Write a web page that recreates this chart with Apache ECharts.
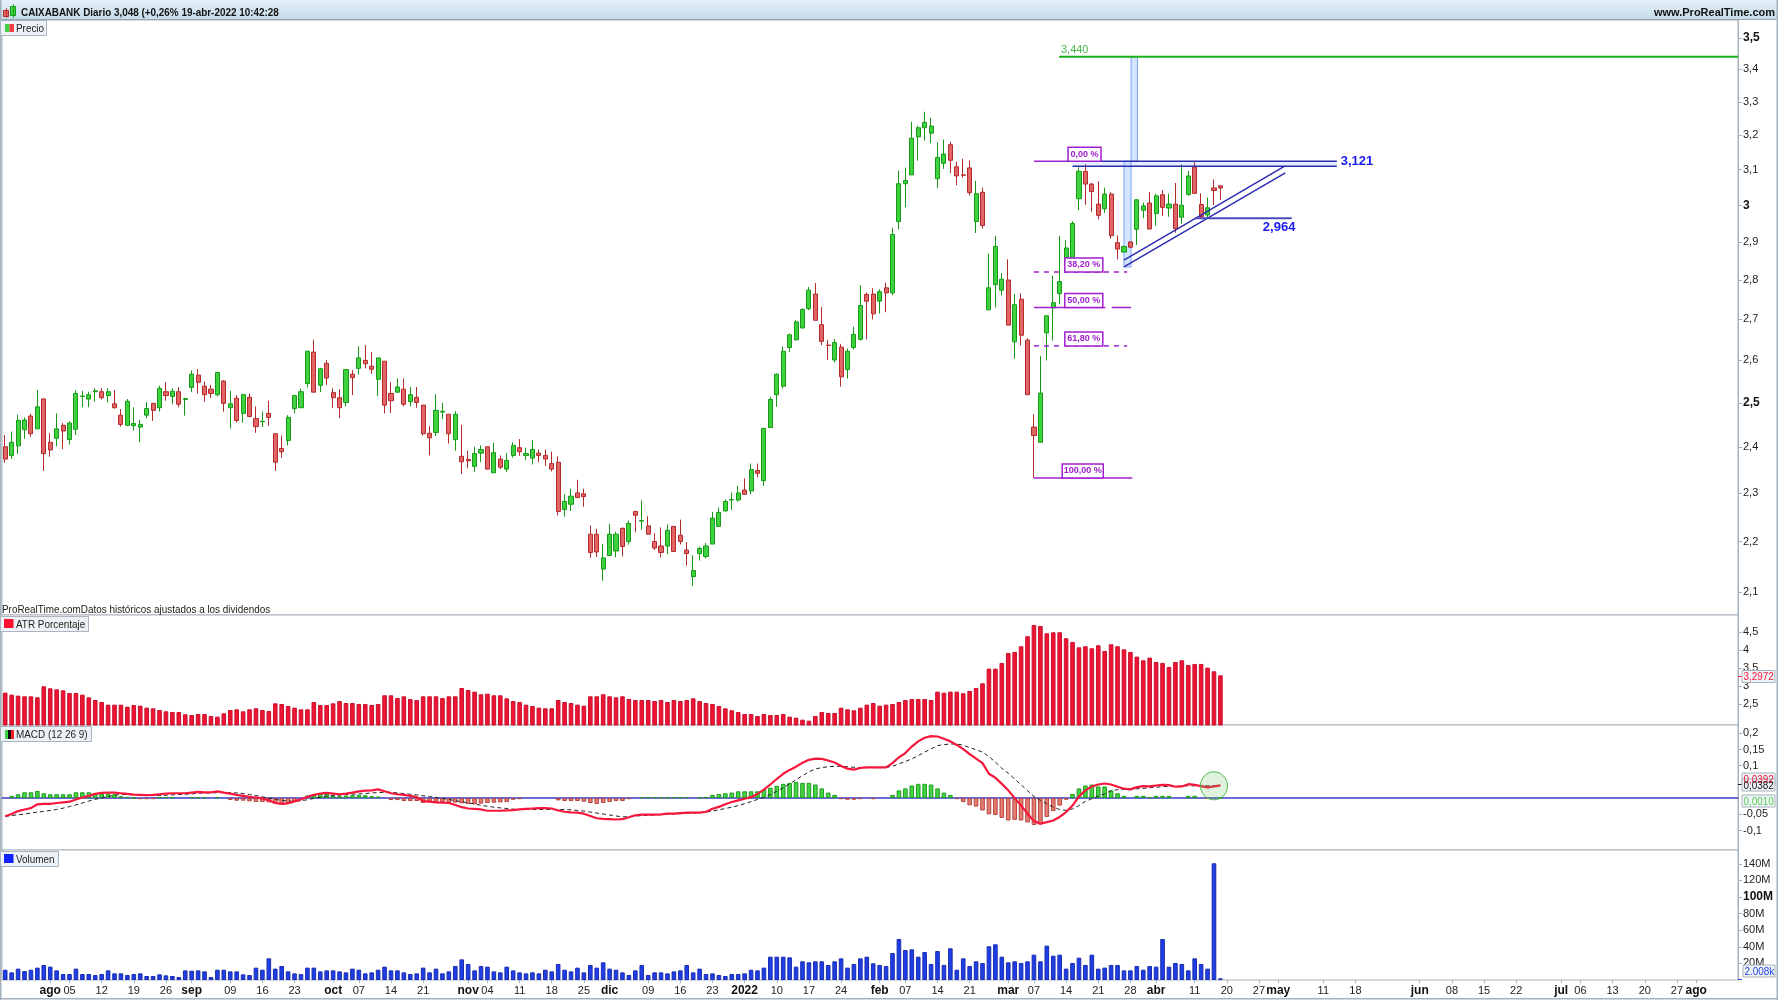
<!DOCTYPE html>
<html lang="es" style="height: 100%">

<head>
  <meta charset="utf-8">
</head>

<body style="height: 100%; margin: 0; background: #fff">
  <div id="container" style="width: 1778px; height: 1000px"></div>

  <script type="text/javascript" src="https://fastly.jsdelivr.net/npm/echarts@6.0.0/dist/echarts.min.js"></script>

  <script type="text/javascript">
    // daily sessions, [open, close, low, high]
    var ohlc = [
      [2.401,2.374,2.366,2.427],[2.382,2.411,2.374,2.435],[2.403,2.460,2.385,2.473],[2.439,2.461,2.419,2.467],[2.470,2.430,2.423,2.475],
      [2.441,2.491,2.441,2.530],[2.509,2.386,2.348,2.511],[2.411,2.394,2.379,2.431],[2.420,2.441,2.402,2.476],[2.449,2.436,2.396,2.454],
      [2.417,2.454,2.406,2.458],[2.440,2.522,2.427,2.529],[2.515,2.516,2.490,2.528],[2.509,2.519,2.490,2.526],[2.526,2.528,2.503,2.534],
      [2.526,2.512,2.508,2.534],[2.517,2.526,2.501,2.534],[2.498,2.489,2.487,2.530],[2.472,2.451,2.446,2.486],[2.449,2.504,2.448,2.509],
      [2.448,2.453,2.437,2.490],[2.445,2.451,2.411,2.461],[2.472,2.487,2.465,2.502],[2.499,2.483,2.459,2.500],[2.489,2.534,2.480,2.540],
      [2.526,2.517,2.505,2.548],[2.515,2.527,2.497,2.534],[2.526,2.497,2.490,2.537],[2.508,2.510,2.471,2.512],[2.536,2.567,2.525,2.576],
      [2.565,2.548,2.522,2.579],[2.539,2.519,2.503,2.550],[2.532,2.522,2.512,2.542],[2.519,2.571,2.515,2.572],[2.551,2.499,2.480,2.553],
      [2.489,2.498,2.442,2.528],[2.511,2.460,2.455,2.518],[2.476,2.519,2.455,2.521],[2.513,2.469,2.467,2.522],[2.464,2.446,2.432,2.492],
      [2.457,2.458,2.445,2.480],[2.476,2.467,2.448,2.505],[2.430,2.367,2.348,2.431],[2.397,2.390,2.377,2.426],[2.415,2.467,2.404,2.472],
      [2.487,2.517,2.476,2.519],[2.489,2.526,2.489,2.533],[2.545,2.622,2.536,2.623],[2.620,2.525,2.525,2.650],[2.541,2.580,2.525,2.582],
      [2.593,2.558,2.542,2.601],[2.524,2.512,2.488,2.534],[2.512,2.489,2.465,2.532],[2.501,2.578,2.492,2.580],[2.567,2.559,2.518,2.577],
      [2.581,2.606,2.566,2.634],[2.600,2.592,2.581,2.637],[2.586,2.579,2.568,2.620],[2.555,2.606,2.516,2.607],[2.598,2.495,2.476,2.598],
      [2.522,2.505,2.477,2.548],[2.525,2.537,2.523,2.557],[2.532,2.497,2.492,2.557],[2.503,2.519,2.492,2.537],[2.513,2.501,2.489,2.537],
      [2.495,2.430,2.426,2.495],[2.431,2.421,2.382,2.447],[2.433,2.483,2.425,2.520],[2.479,2.481,2.463,2.500],[2.474,2.430,2.408,2.475],
      [2.417,2.474,2.392,2.481],[2.380,2.368,2.341,2.450],[2.373,2.370,2.354,2.392],[2.358,2.386,2.346,2.401],[2.387,2.395,2.367,2.404],
      [2.401,2.352,2.351,2.401],[2.344,2.388,2.344,2.410],[2.374,2.356,2.352,2.382],[2.352,2.371,2.346,2.387],[2.382,2.404,2.377,2.411],
      [2.399,2.390,2.381,2.418],[2.382,2.386,2.372,2.399],[2.376,2.395,2.362,2.416],[2.387,2.382,2.367,2.395],[2.382,2.374,2.359,2.395],
      [2.364,2.352,2.347,2.390],[2.367,2.262,2.254,2.380],[2.266,2.283,2.251,2.298],[2.277,2.294,2.263,2.310],[2.301,2.291,2.291,2.329],
      [2.299,2.293,2.272,2.310],[2.215,2.178,2.168,2.233],[2.215,2.179,2.169,2.226],[2.145,2.167,2.122,2.195],[2.172,2.215,2.172,2.236],
      [2.181,2.215,2.168,2.220],[2.227,2.190,2.170,2.229],[2.200,2.237,2.194,2.243],[2.262,2.254,2.219,2.263],[2.242,2.243,2.224,2.285],
      [2.232,2.215,2.215,2.252],[2.200,2.187,2.183,2.217],[2.191,2.178,2.168,2.229],[2.191,2.223,2.175,2.235],[2.231,2.180,2.179,2.232],
      [2.213,2.200,2.194,2.245],[2.183,2.176,2.152,2.199],[2.130,2.142,2.112,2.172],[2.176,2.186,2.162,2.190],[2.170,2.191,2.166,2.197],
      [2.195,2.248,2.195,2.261],[2.231,2.260,2.230,2.270],[2.263,2.283,2.262,2.287],[2.286,2.287,2.265,2.302],[2.286,2.301,2.282,2.316],
      [2.307,2.298,2.298,2.332],[2.305,2.351,2.298,2.364],[2.349,2.343,2.334,2.364],[2.327,2.442,2.316,2.443],[2.444,2.508,2.443,2.514],
      [2.519,2.567,2.491,2.569],[2.539,2.622,2.534,2.633],[2.631,2.662,2.620,2.665],[2.650,2.694,2.648,2.698],[2.679,2.725,2.678,2.728],
      [2.727,2.774,2.723,2.782],[2.764,2.698,2.698,2.792],[2.687,2.646,2.637,2.731],[2.637,2.636,2.601,2.649],[2.601,2.643,2.595,2.652],
      [2.632,2.561,2.538,2.640],[2.578,2.622,2.557,2.629],[2.631,2.663,2.626,2.682],[2.651,2.735,2.648,2.787],[2.763,2.746,2.651,2.768],
      [2.764,2.714,2.700,2.779],[2.746,2.770,2.715,2.776],[2.780,2.767,2.718,2.793],[2.767,2.920,2.761,2.938],[2.955,3.060,2.934,3.097],
      [3.060,3.069,2.994,3.106],[3.085,3.191,3.085,3.240],[3.195,3.222,3.126,3.228],[3.222,3.238,3.184,3.270],[3.206,3.227,3.176,3.252],
      [3.074,3.135,3.048,3.179],[3.118,3.145,3.102,3.187],[3.172,3.127,3.090,3.181],[3.108,3.082,3.056,3.123],[3.085,3.084,3.077,3.131],
      [3.105,3.035,3.027,3.127],[2.955,3.032,2.924,3.068],[3.036,2.944,2.936,3.049],[2.724,2.780,2.724,2.869],[2.788,2.888,2.730,2.916],
      [2.774,2.802,2.761,2.818],[2.800,2.686,2.686,2.854],[2.645,2.737,2.604,2.764],[2.751,2.661,2.636,2.766],[2.649,2.519,2.519,2.654],
      [2.445,2.426,2.333,2.474],[2.411,2.523,2.411,2.611],[2.667,2.709,2.600,2.710],[2.729,2.742,2.648,2.811],[2.765,2.796,2.738,2.916],
      [2.844,2.884,2.820,2.905],[2.859,2.950,2.857,2.956],[3.018,3.095,2.986,3.107],[3.095,3.059,3.001,3.115],[3.059,3.038,2.982,3.062],
      [3.003,2.972,2.961,3.067],[2.990,3.031,2.979,3.049],[3.031,2.917,2.909,3.036],[2.898,2.881,2.854,2.918],[2.873,2.888,2.873,2.890],
      [2.900,2.886,2.885,2.901],[2.934,3.015,2.892,3.016],[2.986,2.998,2.964,3.007],[3.006,2.935,2.934,3.036],[2.977,3.026,2.944,3.032],
      [3.029,2.994,2.971,3.042],[2.992,3.003,2.968,3.032],[3.003,2.936,2.925,3.062],[2.967,3.000,2.949,3.115],[3.030,3.082,3.026,3.096],
      [3.107,3.033,3.032,3.121],[3.002,2.969,2.963,3.033],[2.973,2.993,2.967,3.021],[3.048,3.041,3.000,3.072],[3.054,3.048,3.014,3.055]
    ];

    var atrPct = [
      2.813,2.757,2.729,2.711,2.711,2.683,2.990,2.934,2.906,2.878,
      2.804,2.804,2.757,2.683,2.608,2.552,2.478,2.478,2.478,2.422,
      2.469,2.450,2.394,2.376,2.329,2.292,2.273,2.273,2.208,2.189,
      2.217,2.217,2.161,2.143,2.236,2.329,2.348,2.292,2.348,2.376,
      2.329,2.301,2.515,2.497,2.441,2.394,2.348,2.348,2.552,2.469,
      2.469,2.515,2.580,2.524,2.524,2.497,2.497,2.469,2.497,2.739,
      2.739,2.664,2.711,2.636,2.608,2.711,2.711,2.711,2.664,2.711,
      2.711,2.943,2.888,2.841,2.767,2.785,2.739,2.739,2.655,2.580,
      2.552,2.478,2.441,2.394,2.376,2.376,2.608,2.552,2.524,2.478,
      2.450,2.711,2.711,2.767,2.711,2.683,
      2.711,2.636,2.608,2.608,2.608,2.580,2.608,2.552,2.608,2.580,
      2.608,2.655,2.580,2.524,2.497,2.441,2.376,2.320,2.273,2.217,
      2.217,2.161,2.217,2.189,2.189,2.217,2.143,2.115,2.059,2.031,
      2.161,2.273,2.245,2.245,2.394,2.348,2.320,2.394,2.478,2.524,
      2.450,2.478,2.497,2.552,2.608,2.636,2.636,2.636,2.608,2.841,
      2.813,2.841,2.841,2.795,2.860,2.943,3.074,3.483,3.483,3.642,
      3.921,3.949,4.107,4.387,4.703,4.675,4.470,4.498,4.498,4.331,
      4.228,4.079,4.107,4.051,4.135,3.977,4.163,4.107,4.023,3.949,
      3.819,3.716,3.791,3.670,3.642,3.530,3.670,3.716,3.586,3.614,
      3.614,3.511,3.409,3.2972
    ];

    var macdLine = [
      -.056,-.049,-.040,-.035,-.031,-.019,-.018,-.018,-.015,-.013,
      -.011,-.004,.002,.007,.013,.016,.017,.017,.015,.013,
      .011,.010,.009,.010,.012,.014,.015,.015,.015,.017,
      .019,.018,.018,.021,.017,.014,.010,.007,.004,.002,
      -.001,-.007,-.015,-.018,-.016,-.010,-.004,.004,.010,.014,
      .016,.014,.012,.014,.017,.021,.023,.024,.027,.021,
      .015,.012,.010,.007,.003,-.009,-.011,-.013,-.014,-.015,
      -.021,-.028,-.032,-.033,-.035,-.039,-.039,-.039,-.038,-.037,
      -.035,-.033,-.032,-.031,-.031,-.032,-.038,-.042,-.044,-.045,
      -.048,-.055,-.062,-.064,-.065,-.066,-.065,-.059,-.053,-.051,
      -.051,-.051,-.050,-.048,-.048,-.046,-.045,-.045,-.045,-.042,
      -.033,-.027,-.019,-.012,-.007,-.002,.003,.013,.026,.042,
      .059,.075,.087,.097,.109,.118,.122,.121,.116,.110,
      .099,.091,.088,.093,.095,.095,.095,.095,.108,.126,
      .139,.159,.175,.186,.191,.190,.183,.175,.164,.151,
      .136,.122,.108,.075,.063,.044,.024,.000,-.023,-.048,
      -.071,-.079,-.074,-.069,-.058,-.043,-.023,.005,.024,.036,
      .042,.045,.042,.035,.029,.027,.034,.037,.036,.039,
      .041,.040,.035,.036,.043,.041,.037,.033,.036,.0392
    ];

    var macdSignal = [
      -.056,-.054,-.051,-.049,-.046,-.043,-.041,-.038,-.035,-.031,
      -.026,-.021,-.015,-.009,-.004,.001,.005,.009,.011,.011,
      .010,.009,.008,.008,.008,.009,.010,.011,.012,.013,
      .015,.016,.016,.017,.017,.017,.016,.014,.011,.008,
      .004,.000,-.004,-.007,-.009,-.010,-.008,-.005,-.001,.003,
      .006,.008,.009,.011,.012,.013,.014,.016,.017,.018,
      .018,.016,.014,.012,.010,.007,.005,.002,-.001,-.004,
      -.008,-.011,-.015,-.018,-.022,-.025,-.028,-.030,-.032,-.034,
      -.035,-.035,-.035,-.035,-.035,-.035,-.035,-.035,-.036,-.038,
      -.040,-.043,-.046,-.049,-.052,-.055,-.058,-.057,-.055,-.054,
      -.053,-.052,-.051,-.050,-.049,-.048,-.047,-.046,-.045,-.043,
      -.040,-.036,-.032,-.028,-.023,-.017,-.011,-.004,.002,.011,
      .021,.032,.044,.057,.069,.081,.090,.094,.097,.098,
      .098,.097,.095,.094,.094,.094,.094,.095,.098,.106,
      .113,.121,.131,.142,.152,.162,.165,.167,.167,.163,
      .156,.149,.142,.128,.111,.092,.077,.059,.041,.023,
      .005,-.007,-.017,-.028,-.035,-.038,-.033,-.023,-.010,-.002,
      .006,.013,.023,.026,.027,.028,.029,.030,.032,.034,
      .035,.037,.037,.037,.038,.038,.038,.038,.038,.0382
    ];

    var macdHist = [
      0,.007,.012,.018,.018,.022,.015,.012,.012,.012,
      .012,.018,.018,.018,.016,.014,.014,.012,.006,.004,
      .001,-.003,-.003,-.003,.003,.003,.003,0,0,.003,
      .003,.003,0,.003,0,-.006,-.008,-.008,-.010,-.012,
      -.012,-.013,-.017,-.017,-.015,-.011,0,.008,.010,.013,
      .013,.007,.006,.008,.009,.010,.009,.006,.005,0,
      -.006,-.006,-.009,-.009,-.009,-.015,-.013,-.012,-.012,-.014,
      -.014,-.016,-.018,-.019,-.017,-.015,-.014,-.013,-.012,-.005,
      -.003,0,0,0,0,0,-.007,-.009,-.009,-.009,
      -.011,-.015,-.018,-.015,-.012,-.009,-.009,-.003,0,.003,
      .003,.003,.003,.003,.003,.003,.003,0,.003,.003,
      .010,.013,.015,.017,.021,.021,.021,.021,.026,.032,
      .038,.044,.047,.050,.047,.047,.042,.030,.017,.010,
      -.003,-.005,-.005,-.003,0,-.003,0,0,.010,.024,
      .030,.039,.044,.044,.042,.030,.017,.010,-.003,-.012,
      -.022,-.026,-.038,-.050,-.052,-.061,-.069,-.067,-.069,-.075,
      -.083,-.081,-.058,-.040,-.023,-.005,.013,.030,.039,.042,
      .036,.036,.024,.015,.007,0,.007,.007,.003,.007,
      .007,.007,0,0,.007,.007,0,-.002,0,.001
    ];

    // millions of shares
    var volumeM = [
      12.4,9.2,13.7,10.8,12.4,14.9,18.1,16.1,11.6,7.2,
      7.2,13.7,7.2,7.2,6.0,7.2,11.6,8.0,8.0,6.0,
      7.2,8.0,4.8,4.8,6.8,5.6,4.8,3.6,11.6,11.2,
      11.6,10.4,3.6,12.4,12.4,10.4,10.4,6.8,6.0,14.9,
      12.4,26.1,13.7,16.9,10.4,8.0,7.2,14.9,14.9,10.4,
      11.6,11.6,10.4,9.2,13.7,12.4,8.0,9.2,12.4,16.1,
      11.6,11.6,9.2,7.2,8.0,14.9,9.2,13.7,8.0,10.4,
      16.9,24.9,19.3,11.6,16.9,16.1,10.4,9.2,16.1,11.6,
      9.2,8.0,9.2,8.0,12.4,10.4,19.3,12.4,10.4,14.9,
      9.2,18.1,14.9,21.3,13.7,12.4,
      9.2,6.0,11.6,18.1,6.0,9.2,9.2,8.0,10.4,11.6,
      18.1,9.2,13.7,7.2,8.0,6.0,4.8,7.2,7.2,8.0,
      12.4,11.6,14.9,28.1,28.1,28.1,27.3,16.1,22.5,21.3,
      22.5,22.5,18.1,22.5,26.1,14.9,19.3,26.1,28.1,20.1,
      18.1,16.9,32.5,49.4,36.1,36.9,28.1,33.7,19.3,34.9,
      18.1,38.2,12.4,26.1,16.9,22.5,20.5,40.6,43.0,28.1,
      21.3,22.5,20.5,22.5,30.5,22.5,41.4,29.3,30.5,13.7,
      20.5,26.9,18.1,30.5,13.7,14.9,18.1,18.1,11.6,11.6,
      16.9,12.4,16.9,16.1,49.4,16.1,20.5,19.3,11.6,26.1,
      19.3,13.7,140.6,2.008
    ];

    // session index -> text on the time axis
    var dateTickIndex = [7,10,15,20,25,29,35,40,45,51,55,60,65,72,75,80,85,90,94,100,105,110,115,120,125,130,136,140,145,150,156,160,165,170,175,179,185,190,195,198,205,210,220,225,230,235,242,245,250,255,260,263];
    var dateTickText = ['ago','05','12','19','26','sep','09','16','23','oct','07','14','21','nov','04','11','18','25','dic','09','16','23','2022','10','17','24','feb','07','14','21','mar','07','14','21','28','abr','11','20','27','may','11','18','jun','08','15','22','jul','06','13','20','27','ago'];

    var priceTicks = [3.5,3.4,3.3,3.2,3.1,3,2.9,2.8,2.7,2.6,2.5,2.4,2.3,2.2,2.1];
    var atrTicks = [4.5,4,3.5,3,2.5];
    var macdTicks = [0.2,0.15,0.1,-0.05,-0.1];
    var volumeTicks = [20,40,60,80,100,120,140];

    // hand drawn objects on the price panel, x in sessions, y in euros
    var FIB = '#a01fd0', TRAZO = '#2c2cb0';
    var fibLines = [
      { pts: [[160, 3.124], [165, 3.124]], dash: false },
      { pts: [[160, 2.821], [174.5, 2.821]], dash: true },
      { pts: [[160, 2.730], [171.1, 2.730]], dash: false },
      { pts: [[172.1, 2.730], [175.1, 2.730]], dash: false },
      { pts: [[160, 2.635], [174.5, 2.635]], dash: true },
      { pts: [[160, 2.333], [175.3, 2.333]], dash: false }
    ];
    var fibBoxes = [[165.3, 3.124, '0,00 %', 33], [164.8, 2.821, '38,20 %', 38], [164.8, 2.730, '50,00 %', 38], [164.8, 2.635, '61,80 %', 38], [164.4, 2.333, '100,00 %', 41]];
    var trendLines = [
      [[165, 3.124], [207.1, 3.124]],
      [[166, 3.110], [207.1, 3.110]],
      [[174, 2.852], [199, 3.110]],
      [[174, 2.834], [199.1, 3.091]]
    ];
    var supportLine = [[185, 2.964], [200.1, 2.964]];
    var targetLine = [[163.9, 3.44], [269.5, 3.44]];
    var zoneRects = [[166, 3.124, 207.1, 3.110], [174, 3.124, 175.1, 2.834], [175.1, 3.44, 176.1, 3.124]];
    var priceNotes = [[164.2, 3.462, '3,440', '#4cb84c', 'normal', 11], [207.7, 3.124, '3,121', '#1a1aee', 'bold', 13], [195.6, 2.94, '2,964', '#1a1aee', 'bold', 13]];
    var macdCircle = [[188, 0.038]];

    var FONT = '"Liberation Sans", Arial, sans-serif';
    var GREY = '#a6b2bb';
    var TEXT = '#222';
    var N_BARS = 270;

    var categories = [];
    for (var i = 0; i < N_BARS; i++) categories.push(String(i));
    var labelAt = {};
    dateTickIndex.forEach(function (idx, k) { labelAt[idx] = dateTickText[k]; });

    function commaNum(v) {
      return String(+(+v).toFixed(3)).replace('.', ',');
    }

    var grids = [
      { top: 20, height: 595 },
      { top: 615, height: 110 },
      { top: 725, height: 125 },
      { top: 850, height: 130 }
    ].map(function (g) {
      return { left: 2, width: 1736, top: g.top, height: g.height, show: true, backgroundColor: '#fff', borderColor: GREY, borderWidth: 1 };
    });

    function xCat(idx, extra) {
      return Object.assign({
        type: 'category',
        gridIndex: idx,
        data: categories,
        boundaryGap: true,
        axisLine: { show: false },
        axisTick: { show: false },
        axisLabel: { show: false },
        splitLine: { show: false }
      }, extra || {});
    }

    function yRight(idx, ticks, extra, fmt) {
      return Object.assign({
        gridIndex: idx,
        position: 'right',
        scale: true,
        splitLine: { show: false },
        axisLine: { show: true, onZero: false, lineStyle: { color: GREY, width: 1 } },
        axisTick: { show: true, length: 4, lineStyle: { color: GREY }, customValues: ticks },
        axisLabel: {
          show: true,
          customValues: ticks,
          margin: 5,
          color: TEXT,
          fontFamily: FONT,
          fontSize: 11,
          formatter: fmt,
          rich: { b: { fontWeight: 'bold', fontSize: 12, color: '#111', fontFamily: FONT } }
        }
      }, extra);
    }

    var option = {
      animation: false,
      backgroundColor: '#fff',
      grid: grids,
      xAxis: [
        xCat(0),
        xCat(1),
        xCat(2, { axisLine: { show: true, onZero: true, lineStyle: { color: '#3c3cc4', width: 1.5 } } }),
        xCat(3, {
          axisTick: {
            show: true, length: 3, alignWithLabel: true, lineStyle: { color: GREY },
            interval: function (index) { return labelAt[index] != null; }
          },
          axisLabel: {
            show: true,
            margin: 5,
            color: TEXT,
            fontFamily: FONT,
            fontSize: 11,
            hideOverlap: false,
            interval: function (index) { return labelAt[index] != null; },
            formatter: function (val) {
              var t = labelAt[+val];
              if (t == null) return '';
              return /^\d\d$/.test(t) ? t : '{b|' + t + '}';
            },
            rich: { b: { fontWeight: 'bold', fontSize: 12, color: '#111', fontFamily: FONT } }
          }
        }),
        // same width as the sessions, used for the drawn objects
        { type: 'value', gridIndex: 0, min: -0.5, max: N_BARS - 0.5, show: false, splitLine: { show: false } }
      ],
      yAxis: [
        yRight(0, priceTicks, { type: 'log', logBase: 10, min: 2.056, max: 3.5586 }, function (v) {
          var s = commaNum(v);
          return (s === '3,5' || s === '3' || s === '2,5') ? '{b|' + s + '}' : s;
        }),
        yRight(1, atrTicks, { type: 'value', min: 1.91, max: 4.98 }, commaNum),
        yRight(2, macdTicks, { type: 'value', min: -0.16, max: 0.2255 }, commaNum),
        yRight(3, volumeTicks, { type: 'value', min: 0, max: 156.6 }, function (v) {
          return +v === 100 ? '{b|100M}' : Math.round(v) + 'M';
        })
      ],
      series: [
        {
          type: 'candlestick',
          name: 'Precio',
          xAxisIndex: 0,
          yAxisIndex: 0,
          barWidth: 4.6,
          data: ohlc,
          itemStyle: { color: '#3fd13f', color0: '#e26565', borderColor: '#159a15', borderColor0: '#b42a2a', borderWidth: 1 },
          z: 2
        },
        {
          type: 'custom',
          name: 'zonas',
          xAxisIndex: 4,
          yAxisIndex: 0,
          data: zoneRects,
          z: 1,
          renderItem: function (params, api) {
            var a = api.coord([api.value(0), api.value(1)]);
            var b = api.coord([api.value(2), api.value(3)]);
            var band = params.dataIndex === 0;
            return {
              type: 'rect',
              shape: { x: a[0], y: a[1], width: b[0] - a[0], height: b[1] - a[1] },
              style: { fill: band ? '#e6eeff' : 'rgba(185,212,255,0.6)', stroke: band ? null : '#78a6f5', lineWidth: 1 }
            };
          }
        }
      ].concat(fibLines.map(function (l) {
        return drawnLine(l.pts, FIB, 1.5, l.dash ? [5, 5] : null, 3);
      })).concat(trendLines.map(function (pts) {
        return drawnLine(pts, TRAZO, 1.5, null, 4);
      })).concat([
        drawnLine(supportLine, '#4a4ab8', 2, null, 4),
        drawnLine(targetLine, '#1ab01a', 2, null, 4),
        {
          type: 'custom',
          name: 'fibonacci',
          xAxisIndex: 4,
          yAxisIndex: 0,
          data: fibBoxes.map(function (b) { return [b[0], b[1]]; }),
          z: 5,
          renderItem: function (params, api) {
            var p = api.coord([api.value(0), api.value(1)]);
            var b = fibBoxes[params.dataIndex];
            return {
              type: 'group',
              children: [
                { type: 'rect', shape: { x: p[0], y: p[1] - 14, width: b[3], height: 14 }, style: { fill: '#fff', stroke: FIB, lineWidth: 1.5 } },
                { type: 'text', style: { x: p[0] + b[3] / 2, y: p[1] - 7, text: b[2], fill: FIB, font: 'bold 9px ' + FONT, align: 'center', verticalAlign: 'middle' } }
              ]
            };
          }
        },
        {
          type: 'custom',
          name: 'notas',
          xAxisIndex: 4,
          yAxisIndex: 0,
          data: priceNotes.map(function (n) { return [n[0], n[1]]; }),
          z: 5,
          renderItem: function (params, api) {
            var p = api.coord([api.value(0), api.value(1)]);
            var n = priceNotes[params.dataIndex];
            return { type: 'text', style: { x: p[0], y: p[1], text: n[2], fill: n[3], font: n[4] + ' ' + n[5] + 'px ' + FONT, align: 'left', verticalAlign: 'middle' } };
          }
        },
        {
          type: 'bar',
          name: 'ATR Porcentaje',
          xAxisIndex: 1,
          yAxisIndex: 1,
          barWidth: 4.6,
          data: atrPct,
          itemStyle: { color: '#f01434', borderColor: '#c8102c', borderWidth: 1 }
        },
        {
          type: 'bar',
          name: 'MACD hist',
          xAxisIndex: 2,
          yAxisIndex: 2,
          barWidth: 4.6,
          data: macdHist.map(function (v) {
            if (v === 0) return null;
            return {
              value: v,
              itemStyle: v >= 0
                ? { color: '#45d445', borderColor: '#1c9c1c', borderWidth: 1 }
                : { color: '#e57c72', borderColor: '#b4453f', borderWidth: 1 }
            };
          })
        },
        {
          type: 'line',
          name: 'Signal',
          xAxisIndex: 2,
          yAxisIndex: 2,
          data: macdSignal,
          showSymbol: false,
          lineStyle: { color: '#222', width: 1, type: [4, 3] },
          z: 3
        },
        {
          type: 'line',
          name: 'MACD',
          xAxisIndex: 2,
          yAxisIndex: 2,
          data: macdLine,
          showSymbol: false,
          lineStyle: { color: '#f8173c', width: 2.2 },
          z: 4
        },
        {
          type: 'custom',
          name: 'circulo',
          xAxisIndex: 2,
          yAxisIndex: 2,
          data: macdCircle,
          z: 5,
          renderItem: function (params, api) {
            var p = api.coord([api.value(0), api.value(1)]);
            return {
              type: 'ellipse',
              shape: { cx: p[0], cy: p[1], rx: 13.5, ry: 14 },
              style: { fill: 'rgba(90,190,90,0.2)', stroke: '#4cbb4c', lineWidth: 1 }
            };
          }
        },
        {
          type: 'bar',
          name: 'Volumen',
          xAxisIndex: 3,
          yAxisIndex: 3,
          barWidth: 4.6,
          data: volumeM,
          itemStyle: { color: '#1f3fe6', borderColor: '#1a2cae', borderWidth: 1 }
        }
      ]),
      graphic: chrome()
    };

    function drawnLine(pts, color, width, dash, z) {
      return {
        type: 'line',
        xAxisIndex: 4,
        yAxisIndex: 0,
        data: pts,
        showSymbol: false,
        silent: true,
        z: z,
        lineStyle: { color: color, width: width, type: dash || 'solid' }
      };
    }

    // window furniture: title bar, panel tags, last value boxes
    function chrome() {
      var out = [];
      function rect(x, y, w, h, fill, stroke) {
        out.push({ type: 'rect', z: 20, silent: true, shape: { x: x, y: y, width: w, height: h }, style: { fill: fill, stroke: stroke || null, lineWidth: 1 } });
      }
      // the source text is narrower than Liberation at the same height
      function text(x, y, s, font, fill, align, sx) {
        out.push({ type: 'text', z: 21, silent: true, x: x, y: y, scaleX: sx || 0.9, style: { text: s, font: font, fill: fill, textAlign: align || 'left', textVerticalAlign: 'middle' } });
      }
      function tag(y, w, label) {
        rect(0.5, y + 0.5, w, 15, '#eef2f6', '#a9b6c2');
        text(16, y + 9, label, '11px ' + FONT, TEXT);
      }

      rect(0, 0, 1778, 19, { type: 'linear', x: 0, y: 0, x2: 0, y2: 1, colorStops: [{ offset: 0, color: '#e4f1fa' }, { offset: 1, color: '#c6dbe9' }] }, null);
      rect(0, 19, 1778, 1, '#97a7b2');
      rect(0, 0, 1.5, 1000, GREY);
      rect(0, 998, 1778, 1.5, GREY);
      rect(1776.5, 0, 1.5, 1000, GREY);

      // candle icon
      rect(3.5, 10.5, 5, 6, '#e26565', '#b42a2a');
      rect(10.5, 6.5, 5, 9, '#3fd13f', '#159a15');
      rect(6, 8, 0.8, 10, '#b42a2a');
      rect(13, 4, 0.8, 14, '#159a15');
      text(21, 12.5, 'CAIXABANK Diario 3,048 (+0,26% 19-abr-2022 10:42:28', 'bold 11px ' + FONT, '#111');
      text(1775, 12.5, 'www.ProRealTime.com', 'bold 11px ' + FONT, '#111', 'right', 1);

      tag(20, 46, 'Precio');
      rect(5, 24, 4.5, 8, '#3fd13f');
      rect(9.5, 24, 4.5, 8, '#ee4040');
      text(2, 610, 'ProRealTime.comDatos históricos ajustados a los dividendos', '11px ' + FONT, TEXT);

      tag(616, 88, 'ATR Porcentaje');
      rect(4, 619, 9.5, 9, '#ff1030');
      tag(726, 91, 'MACD (12 26 9)');
      rect(5, 730, 3, 9, '#3fd13f');
      rect(8, 730, 3, 9, '#111');
      rect(11, 730, 3, 9, '#ee2020');
      tag(851, 58, 'Volumen');
      rect(4, 854, 9.5, 9, '#1020ff');

      // last values on the right scales
      function lastBox(y, s, color, x, w) {
        rect(x, y, w, 12, '#f1f4f6', '#a6b2bb');
        text(x + 1.5, y + 6.5, s, '11px ' + FONT, color);
      }
      rect(1738, 676, 4, 1, '#f8173c');
      lastBox(670.5, '3,2972', '#f8173c', 1742, 33);
      rect(1738, 784, 4, 1, '#111');
      lastBox(773, '0,0392', '#f8173c', 1742, 33);
      lastBox(779, '0,0382', '#111', 1742, 33);
      lastBox(795, '0,0010', '#55d055', 1742, 33);
      rect(1738, 979, 4, 1, '#1f3fe6');
      lastBox(965, '2.008k', '#1f3fe6', 1743, 32);
      return out;
    }

    var dom = document.getElementById('container');
    var myChart = echarts.init(dom, null, { renderer: 'canvas' });
    myChart.setOption(option);
  </script>
</body>

</html>
